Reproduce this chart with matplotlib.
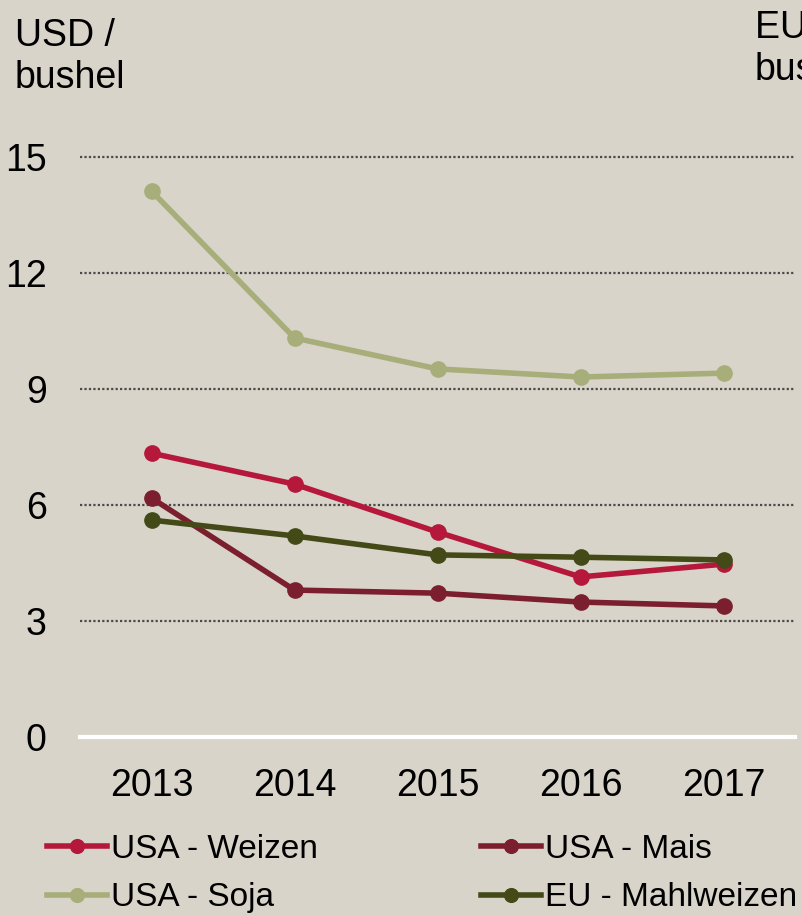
import matplotlib
matplotlib.use('Agg')
import matplotlib.pyplot as plt

plt.rcParams['font.family'] = ['Liberation Sans', 'DejaVu Sans']

years = ['2013', '2014', '2015', '2016', '2017']
usa_weizen = [7.34, 6.54, 5.30, 4.14, 4.47]
usa_mais = [6.18, 3.80, 3.72, 3.49, 3.39]
usa_soja = [14.12, 10.32, 9.52, 9.31, 9.41]
eu_mahlweizen = [5.61, 5.20, 4.71, 4.65, 4.58]

bg = '#d8d4ca'
fig = plt.figure(figsize=(8.02, 9.16), dpi=100, facecolor=bg)
ax = fig.add_axes([80 / 802, 179 / 916, 715 / 802, 580 / 916])
ax.set_facecolor(bg)

x = range(len(years))
fs = 27

# gitterlinien
for v in [3, 6, 9, 12, 15]:
    ax.axhline(v, color='#4a4a4a', lw=1.6, ls=(0, (1, 1)), zorder=1, clip_on=False)
ax.axhline(0, color='white', lw=3, zorder=2, clip_on=False)

ax.plot(x, usa_weizen, color='#b5183a', lw=4, marker='o', ms=11, label='USA - Weizen', zorder=3)
ax.plot(x, usa_soja, color='#a8ae7a', lw=4, marker='o', ms=11, label='USA - Soja', zorder=3)
ax.plot(x, usa_mais, color='#7b1f2e', lw=4, marker='o', ms=11, label='USA - Mais', zorder=3)
ax.plot(x, eu_mahlweizen, color='#434a17', lw=4, marker='o', ms=11, label='EU - Mahlweizen', zorder=3)

ax.set_xlim(-0.5, 4.5)
ax.set_ylim(0, 15)
ax.set_xticks(list(x))
ax.set_xticklabels(years, fontsize=fs)
ax.set_yticks([0, 3, 6, 9, 12, 15])
ax.set_yticklabels(['0', '3', '6', '9', '12', '15'], fontsize=fs)
ax.tick_params(axis='x', length=0, pad=22)
ax.tick_params(axis='y', length=0, pad=24)
for s in ax.spines.values():
    s.set_visible(False)

fig.text(15 / 802, 1 - 18 / 916, 'USD /\nbushel', fontsize=fs, va='top', ha='left', linespacing=1.2)
fig.text(755 / 802, 1 - 10 / 916, 'EUR /\nbushel', fontsize=fs, va='top', ha='left', linespacing=1.2)

fig.legend(loc='upper left', bbox_to_anchor=(47 / 802, 1 - 834 / 916), ncol=2,
           frameon=False, fontsize=24, handlelength=1.8, handletextpad=0.12,
           columnspacing=4.9, labelspacing=0.52, borderpad=0, borderaxespad=0,
           markerscale=0.9)

fig.savefig('out.png', dpi=100, facecolor=bg)
